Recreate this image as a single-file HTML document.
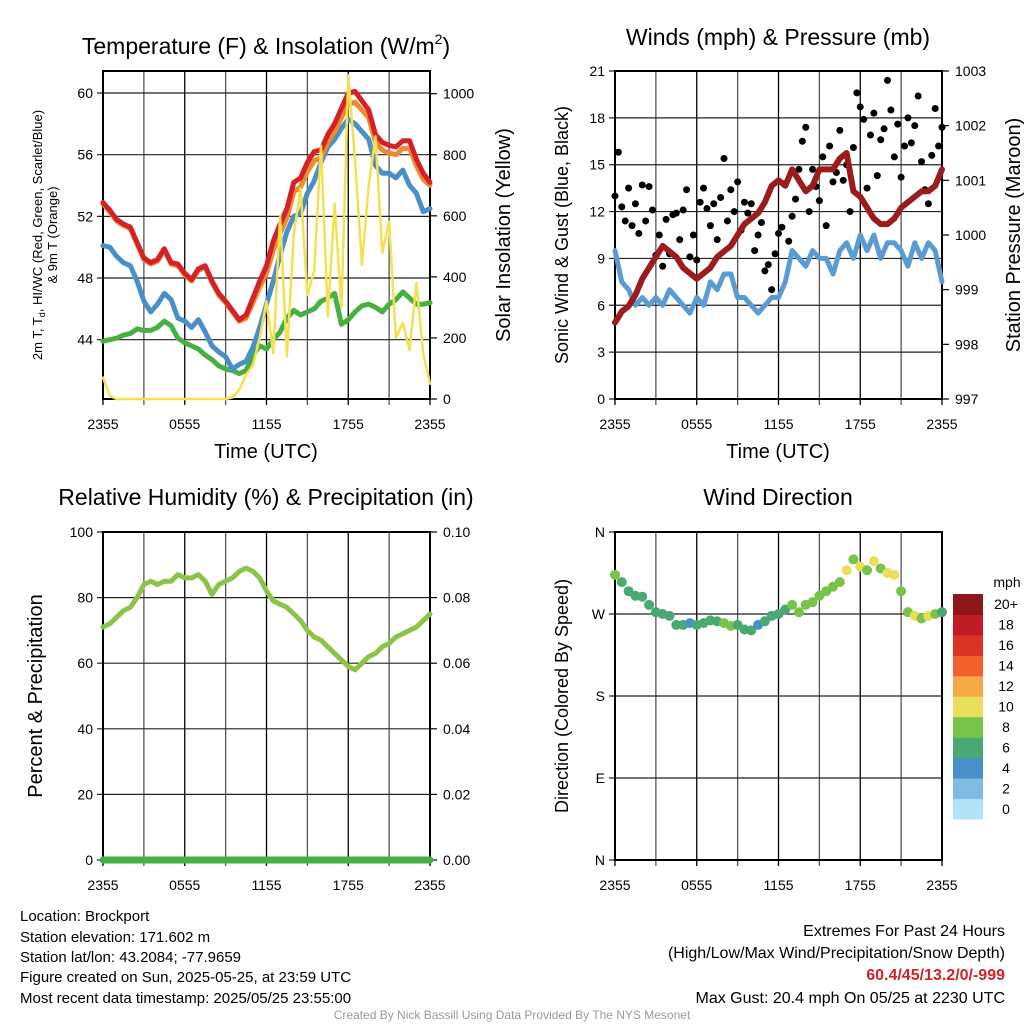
<!DOCTYPE html>
<html><head><meta charset="utf-8">
<style>
body{margin:0;background:#fff;}
svg{display:block;font-family:"Liberation Sans",sans-serif;}
</style></head>
<body>
<svg id="c" width="1024" height="1024" viewBox="0 0 1024 1024">
<g id="g"></g>
<text x="266" y="54" font-size="23" text-anchor="middle">Temperature (F) &amp; Insolation (W/m<tspan font-size="14" dy="-10">2</tspan><tspan dy="10">)</tspan></text>
<text x="778" y="45" font-size="23" text-anchor="middle">Winds (mph) &amp; Pressure (mb)</text>
<text x="266" y="505" font-size="23" text-anchor="middle">Relative Humidity (%) &amp; Precipitation (in)</text>
<text x="778" y="505" font-size="23" text-anchor="middle">Wind Direction</text>
<text x="266" y="458" font-size="20" text-anchor="middle">Time (UTC)</text>
<text x="778" y="458" font-size="20" text-anchor="middle">Time (UTC)</text>
<text transform="translate(42,235) rotate(-90)" font-size="13" text-anchor="middle">2m T, T<tspan font-size="9" dy="3">d</tspan><tspan dy="-3">, HI/WC (Red, Green, Scarlet/Blue)</tspan></text>
<text transform="translate(57,235) rotate(-90)" font-size="13" text-anchor="middle">&amp; 9m T (Orange)</text>
<text transform="translate(510,235) rotate(-90)" font-size="20" text-anchor="middle">Solar Insolation (Yellow)</text>
<text transform="translate(568,235) rotate(-90)" font-size="18" text-anchor="middle">Sonic Wind &amp; Gust (Blue, Black)</text>
<text transform="translate(1020,235) rotate(-90)" font-size="20" text-anchor="middle">Station Pressure (Maroon)</text>
<text transform="translate(42,696) rotate(-90)" font-size="20" text-anchor="middle">Percent &amp; Precipitation</text>
<text transform="translate(568,696) rotate(-90)" font-size="18" text-anchor="middle">Direction (Colored By Speed)</text>
<g font-size="15">
<text x="20" y="921">Location: Brockport</text>
<text x="20" y="942">Station elevation: 171.602 m</text>
<text x="20" y="962">Station lat/lon: 43.2084; -77.9659</text>
<text x="20" y="982">Figure created on Sun, 2025-05-25, at 23:59 UTC</text>
<text x="20" y="1003">Most recent data timestamp: 2025/05/25 23:55:00</text>
</g>
<g font-size="16" text-anchor="end">
<text x="1005" y="936">Extremes For Past 24 Hours</text>
<text x="1005" y="958">(High/Low/Max Wind/Precipitation/Snow Depth)</text>
<text x="1005" y="980" fill="#d0232a" font-weight="bold">60.4/45/13.2/0/-999</text>
<text x="1005" y="1003">Max Gust: 20.4 mph On 05/25 at 2230 UTC</text>
</g>
<text x="512" y="1019" font-size="12" fill="#999" text-anchor="middle">Created By Nick Bassill Using Data Provided By The NYS Mesonet</text>
</svg>
<script>
const temp2m=[52.9,52.4,51.8,51.5,51.3,50.3,49.3,49.0,49.2,49.9,49.0,48.9,48.3,47.9,48.6,48.8,47.8,47.0,46.5,45.9,45.3,45.6,46.7,47.8,48.8,50.4,51.5,52.5,54.2,54.5,55.5,56.2,56.3,57.3,58.0,59.0,60.0,60.1,59.5,58.9,57.3,56.8,56.6,56.5,56.9,56.9,55.7,54.8,54.2];
const temp9m=[52.8,52.3,51.7,51.4,51.2,50.2,49.2,48.9,49.1,49.8,48.9,48.8,48.2,47.8,48.5,48.7,47.7,46.9,46.4,45.8,45.2,45.4,46.4,47.4,48.3,49.8,50.9,51.9,53.6,53.9,54.9,55.6,55.8,56.8,57.5,58.4,59.3,59.4,58.9,58.4,56.8,56.3,56.1,56.0,56.4,56.4,55.3,54.4,54.0];
const heatIndex=[50.1,50.0,49.4,49.0,48.8,47.8,46.5,45.8,46.3,47.0,46.6,45.4,45.2,44.8,45.3,44.5,43.6,43.2,42.9,42.1,42.4,42.6,43.5,44.8,46.3,47.8,49.5,51.0,52.0,52.2,53.5,54.3,55.5,56.5,57.0,57.7,58.3,58.0,57.5,57.0,55.3,54.8,54.8,54.5,55.0,54.0,53.5,52.3,52.5];
const dewpoint=[43.9,44.0,44.1,44.3,44.4,44.7,44.6,44.6,44.8,45.2,44.9,44.1,43.8,43.6,43.4,43.0,42.7,42.3,42.1,42.0,41.8,42.0,43.0,43.6,43.4,44.0,44.5,45.4,45.9,45.6,45.8,46.0,46.5,46.7,47.0,45.0,45.3,45.8,46.2,46.3,46.1,45.8,46.3,46.6,47.1,46.7,46.3,46.3,46.4];
const insolation=[70,10,0,0,0,0,0,0,0,0,0,0,0,0,0,0,0,0,0,5,30,80,110,200,320,150,600,140,540,690,340,420,830,270,640,300,1060,780,440,700,860,480,580,200,250,160,380,150,50];
const windSpeed=[9.5,7.5,7,6,6.5,6,6.5,6,7,6.5,6,5.5,6.5,6,7.5,7,8,8,6.5,6.5,6,5.5,6,6.5,6.5,7.5,9.5,9,8.5,9.5,9,9,8,9.5,10,9,10.5,9.5,10.5,9,10,10,9.5,8.5,10,9,10,9.5,7.5];
const windGust=[13,15.8,12.3,11.4,13.5,11.1,12.5,10.6,13.7,11.4,13.6,12.1,9.2,10.5,8.5,11.5,9.3,11.8,11.9,10.2,12.1,13.4,9.1,10.5,8.9,12.6,13.5,12.2,11.1,12.5,10.2,12.9,15.4,11.4,13.4,12.0,13.9,10.8,12.6,11.9,12.5,9.5,10.5,11.3,8.2,8.6,7.0,9.3,10.6,11.0,13.8,10.1,11.7,12.8,14.7,16.5,17.4,12.0,14.7,13.6,12.7,15.5,11.1,16.2,13.9,14.5,17.2,14.0,15.0,12.0,16.1,19.6,18.7,17.9,13.5,16.9,18.3,14.3,16.6,17.3,20.4,18.5,15.5,17.6,14.2,16.2,18.0,16.4,17.5,19.4,15.2,13.4,12.5,15.6,18.6,16.2,17.4];
const pressure=[998.4,998.6,998.7,998.9,999.2,999.4,999.6,999.8,999.7,999.6,999.4,999.3,999.2,999.3,999.4,999.6,999.7,999.8,1000.0,1000.2,1000.3,1000.4,1000.6,1000.9,1001.0,1000.9,1001.2,1001.0,1000.8,1000.9,1001.2,1001.2,1001.2,1001.4,1001.5,1000.8,1000.7,1000.5,1000.3,1000.2,1000.2,1000.3,1000.5,1000.6,1000.7,1000.8,1000.8,1000.9,1001.2];
const humidity=[71,72,74,76,77,80,84,85,84,85,85,87,86,86,87,85,81,84,85,86,88,89,88,86,82,79,78,77,75,73,70,68,67,65,63,61,59,58,60,62,63,65,66,68,69,70,71,73,75];
const precip=[0,0,0,0,0,0,0,0,0,0,0,0,0,0,0,0,0,0,0,0,0,0,0,0,0,0,0,0,0,0,0,0,0,0,0,0,0,0,0,0,0,0,0,0,0,0,0,0,0];
const direction=[313,305,295,290,289,280,272,270,268,258,258,260,258,260,263,262,260,257,258,253,252,258,262,268,270,275,280,272,280,283,290,295,300,305,318,330,322,318,328,320,315,313,295,272,268,265,268,270,272];
const timeLabels=["2355","0555","1155","1755","2355"];
const tempTicks=[44,48,52,56,60];
const insolTicks=[0,200,400,600,800,1000];
const windTicks=[0,3,6,9,12,15,18,21];
const presTicks=[997,998,999,1000,1001,1002,1003];
const rhTicks=[0,20,40,60,80,100];
const precipTicks=["0.00","0.02","0.04","0.06","0.08","0.10"];
const dirLabels=["N","E","S","W","N"];
const speedBins=["0","2","4","6","8","10","12","14","16","18","20+"];
const binColors=["#b3e3f6","#7fbbe3","#4a90c8","#4aa872","#7ac34a","#e8e05a","#f6a945","#f0612b","#dc3327","#bf1d25","#8f1619"];

const NS="http://www.w3.org/2000/svg";
const G=document.getElementById('g');
function mk(tag,attrs,parent){const e=document.createElementNS(NS,tag);for(const k in attrs)e.setAttribute(k,attrs[k]);(parent||G).appendChild(e);return e;}
function lin(d0,d1,r0,r1){return v=>r0+(v-d0)/(d1-d0)*(r1-r0);}

function frame(name,x0,x1,y0,y1,leftVals,ly,leftLab,rightVals,ry,rightLab){
  const g=mk('g',{});
  
  
  const xs=lin(0,24,x0,x1);
  for(let h=0;h<=24;h+=3){const l=mk('line',{x1:xs(h),x2:xs(h),y1:y0,y2:y1+6,stroke:h%6?'#555':'#000','stroke-width':1.3},g);
    }
  leftVals.forEach((v,i)=>{const y=ly(v);
    const l=mk('line',{x1:x0-6,x2:x1,y1:y,y2:y,stroke:'#222','stroke-width':1.2},g);
    
    const t=mk('text',{x:x0-10,y:y+5,'font-size':14,'text-anchor':'end'},g);t.textContent=leftLab[i];
    });
  if(rightVals)rightVals.forEach((v,i)=>{const y=ry(v);
    mk('line',{x1:x1,x2:x1+7,y1:y,y2:y,stroke:'#000','stroke-width':1.2},g);
    const t=mk('text',{x:x1+13,y:y+5,'font-size':14},g);t.textContent=rightLab[i];
    });
  mk('rect',{x:x0,y:y0,width:x1-x0,height:y1-y0,fill:'none',stroke:'#000','stroke-width':2},g);
  timeLabels.forEach((s,i)=>{const t=mk('text',{x:xs(i*6),y:y1+30,'font-size':14,'text-anchor':'middle'},g);t.textContent=s;
    });
  return xs;
}
function line(arr,xs,ys,color,w,name){
  const n=arr.length;let d='';
  arr.forEach((v,i)=>{d+=(i?'L':'M')+xs(i*24/(n-1)).toFixed(1)+' '+ys(v).toFixed(1);});
  const p=mk('path',{d:d,fill:'none',stroke:color,'stroke-width':w,'stroke-linejoin':'round','stroke-linecap':'round'});
  
  
}
function binColor(s){const i=Math.min(10,Math.max(0,Math.floor(s/2)));return binColors[i];}

const ty=lin(60,44,93,339.7), iy=lin(0,1000,399,93.7);
let xs=frame('temperature',103,430,71,399,tempTicks,ty,tempTicks.map(String),insolTicks,iy,insolTicks.map(String));
line(dewpoint,xs,ty,'#46b041',5,'dewpoint-line');
line(heatIndex,xs,ty,'#4a90c8',5,'heat-index-line');
line(temp9m,xs,ty,'#f08a30',5,'temp-9m-line');
line(temp2m,xs,ty,'#d42027',5,'temp-2m-line');
line(insolation,xs,iy,'#f5e050',2.5,'insolation-line');

const wy=lin(0,21,399,71), py=lin(997,1003,399,71);
xs=frame('wind',615,942,71,399,windTicks,wy,windTicks.map(String),presTicks,py,presTicks.map(String));
line(windSpeed,xs,wy,'#5a9bd4',5,'wind-speed-line');
windGust.forEach((v,i)=>{const c=mk('circle',{cx:xs(i*24/(windGust.length-1)),cy:wy(v),r:3.5,fill:'#000'});
  
  });
line(pressure,xs,py,'#9b1c1c',6,'pressure-line');

const hy=lin(0,100,860,532), ppy=lin(0,0.1,860,532);
xs=frame('humidity',103,430,532,860,rhTicks,hy,rhTicks.map(String),precipTicks.map(Number),ppy,precipTicks);
line(humidity,xs,hy,'#8cc44a',5,'humidity-line');
line(precip,xs,ppy,'#46b041',7,'precipitation-line');

const dy=lin(0,360,860,532);
xs=frame('direction',615,942,532,860,[0,90,180,270,360],dy,dirLabels,null,null,null);
direction.forEach((v,i)=>{const c=mk('circle',{cx:xs(i*24/(direction.length-1)),cy:dy(v),r:5,fill:binColor(windSpeed[i])});
  
  });
const cb=mk('g',{});


const bh=(819-594)/11;
speedBins.forEach((s,i)=>{const y=594+(10-i)*bh;
  mk('rect',{x:953,y:y,width:30,height:bh+0.5,fill:binColors[i]},cb);
  const t=mk('text',{x:1006,y:y+bh/2+5,'font-size':14,'text-anchor':'middle'},cb);t.textContent=s;
  });
const mt=mk('text',{x:1007,y:587,'font-size':14,'text-anchor':'middle'},cb);mt.textContent='mph';


</script>
</body></html>
